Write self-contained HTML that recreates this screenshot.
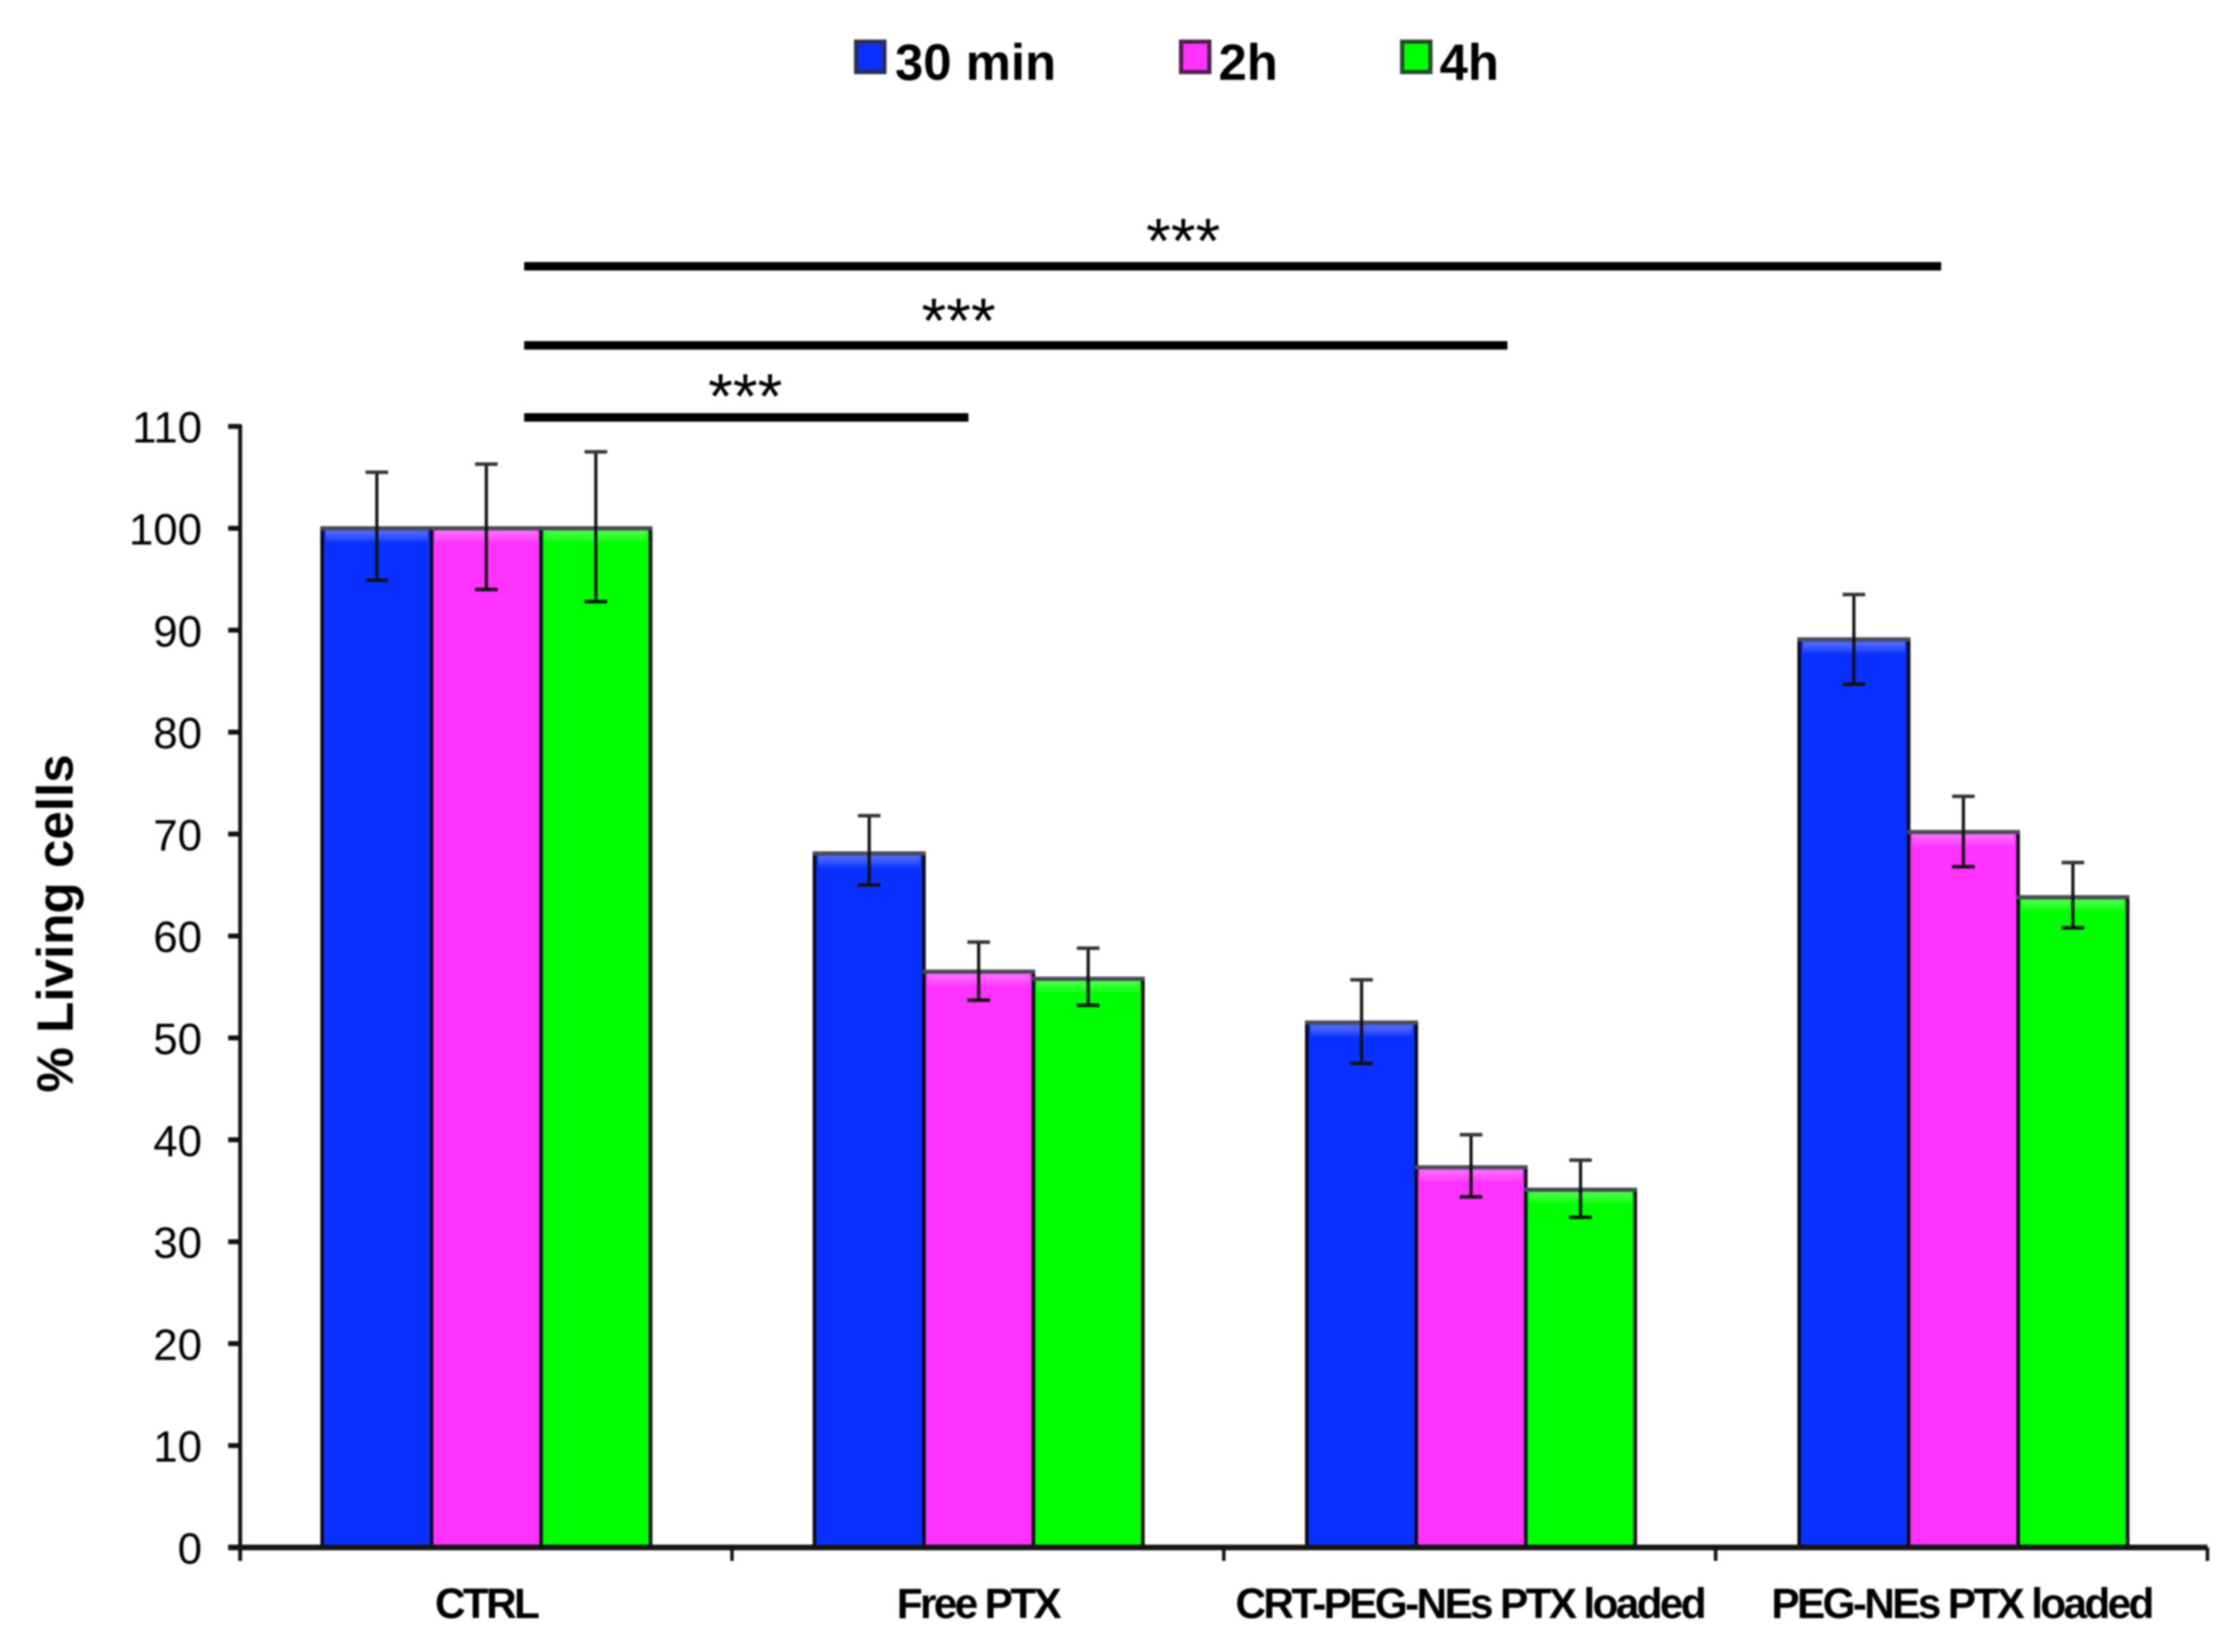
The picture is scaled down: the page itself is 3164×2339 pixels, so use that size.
<!DOCTYPE html>
<html lang="en">
<head>
<meta charset="utf-8">
<title>% Living cells bar chart</title>
<style>
  html, body { margin: 0; padding: 0; background: #ffffff; }
  #chart { display: block; width: 3164px; height: 2339px; filter: blur(1.2px); }
  text { font-family: "Liberation Sans", sans-serif; fill: #000; }
</style>
</head>
<body>
<svg id="chart" xmlns="http://www.w3.org/2000/svg" width="3164" height="2339" viewBox="0 0 3164 2339">
  <defs>
    <linearGradient id="gloss" x1="0" y1="0" x2="0" y2="1">
      <stop offset="0" stop-color="#fff" stop-opacity="0.28"/>
      <stop offset="0.45" stop-color="#fff" stop-opacity="0.2"/>
      <stop offset="1" stop-color="#fff" stop-opacity="0"/>
    </linearGradient>
  </defs>
  <rect x="0" y="0" width="3164" height="2339" fill="#fff"/>

  <g>
    <g>
      <rect x="1212" y="59" width="40" height="43" fill="#0a30ff" stroke="#2a2f50" stroke-width="6"/>
      <text x="1267" y="113" font-size="72" font-weight="bold">30 min</text>
    </g>
    <g>
      <rect x="1672" y="59" width="40" height="43" fill="#ff33ff" stroke="#4c204c" stroke-width="6"/>
      <text x="1725" y="113" font-size="72" font-weight="bold">2h</text>
    </g>
    <g>
      <rect x="1985" y="59" width="40" height="43" fill="#00ff00" stroke="#264a2c" stroke-width="6"/>
      <text x="2038" y="113" font-size="72" font-weight="bold">4h</text>
    </g>
  </g>

  <g>
    <rect x="742" y="371" width="2006" height="12" fill="#000"/>
    <text x="1675" y="372" font-size="90" text-anchor="middle">***</text>
    <rect x="742" y="483" width="1392" height="12" fill="#000"/>
    <text x="1357" y="485" font-size="90" text-anchor="middle">***</text>
    <rect x="742" y="585" width="629" height="12" fill="#000"/>
    <text x="1055" y="592" font-size="90" text-anchor="middle">***</text>
  </g>

  <text transform="translate(103,1307.5) rotate(-90)" text-anchor="middle" font-size="72" font-weight="bold" textLength="479" lengthAdjust="spacingAndGlyphs">% Living cells</text>

  <g id="bars"></g>
  <g id="axes"></g>
</svg>

<script>
const categories = ["CTRL", "Free PTX", "CRT-PEG-NEs PTX loaded", "PEG-NEs PTX loaded"];
const seriesNames = ["30-min", "2h", "4h"];
const yTickLabels = [0, 10, 20, 30, 40, 50, 60, 70, 80, 90, 100, 110];

const values30min = [100.0, 68.1, 51.5, 89.1];
const values2h = [100.0, 56.5, 37.3, 70.2];
const values4h = [100.0, 55.8, 35.1, 63.8];

const errorHigh30min = [105.5, 71.8, 55.7, 93.5];
const errorHigh2h = [106.3, 59.4, 40.5, 73.7];
const errorHigh4h = [107.5, 58.8, 38.0, 67.2];

const errorLow30min = [94.9, 65.0, 47.5, 84.7];
const errorLow2h = [94.0, 53.7, 34.4, 66.8];
const errorLow4h = [92.8, 53.2, 32.4, 60.8];

const seriesValues = [values30min, values2h, values4h];
const seriesHigh = [errorHigh30min, errorHigh2h, errorHigh4h];
const seriesLow = [errorLow30min, errorLow2h, errorLow4h];
const seriesFill = ["#0a30ff", "#ff33ff", "#00ff00"];

const NS = "http://www.w3.org/2000/svg";
const barsLayer = document.getElementById("bars");
const axesLayer = document.getElementById("axes");

function yScale(v) { return 2191 - 14.43 * v; }
function barLeft(cat, ser) { return 456 + 697 * cat + 155 * ser; }
function barCenter(cat, ser) { return barLeft(cat, ser) + 77.5; }
function xBoundary(i) { return 340 + 696.25 * i; }
function categoryCenter(i) { return xBoundary(i + 0.5); }

function make(tag, parent, attrs) {
  const node = document.createElementNS(NS, tag);
  Object.keys(attrs).forEach(function (k) { node.setAttribute(k, attrs[k]); });
  parent.appendChild(node);
  return node;
}

const BAR_W = 155;
const CAP = 32;

categories.forEach(function (cat, c) {
  seriesValues.forEach(function (vals, s) {
    const top = yScale(vals[c]);
    const bottom = yScale(0);
    const left = barLeft(c, s);
    const key = seriesNames[s] + "-" + c;

    let el = make("rect", barsLayer, { x: left, y: top, width: BAR_W, height: bottom - top, fill: seriesFill[s], stroke: "#0a0a14", "stroke-width": 5 });
    
    

    el = make("rect", barsLayer, { x: left + 5, y: top + 3, width: BAR_W - 10, height: 18, fill: "url(#gloss)" });
    
    

    el = make("rect", barsLayer, { x: left - 2, y: top - 3, width: BAR_W + 4, height: 6, fill: "#4a4a5a" });
    
    
  });
});

categories.forEach(function (cat, c) {
  seriesValues.forEach(function (vals, s) {
    const cx = barCenter(c, s);
    const hi = yScale(seriesHigh[s][c]);
    const lo = yScale(seriesLow[s][c]);
    const key = seriesNames[s] + "-" + c;

    let el = make("line", barsLayer, { x1: cx, x2: cx, y1: hi, y2: lo, stroke: "#111", "stroke-width": 4.5 });
    
    

    el = make("line", barsLayer, { x1: cx - CAP / 2, x2: cx + CAP / 2, y1: hi, y2: hi, stroke: "#333", "stroke-width": 5 });
    
    

    el = make("line", barsLayer, { x1: cx - CAP / 2, x2: cx + CAP / 2, y1: lo, y2: lo, stroke: "#111", "stroke-width": 5 });
    
    
  });
});

let axisEl = make("line", axesLayer, { x1: xBoundary(0), x2: xBoundary(0), y1: yScale(110) - 3, y2: 2210, stroke: "#111", "stroke-width": 5.5 });



axisEl = make("line", axesLayer, { x1: 323, x2: xBoundary(4), y1: yScale(0), y2: yScale(0), stroke: "#151515", "stroke-width": 8 });



yTickLabels.forEach(function (t) {
  const y = yScale(t);
  if (t !== 0) {
    const tick = make("line", axesLayer, { x1: 323, x2: xBoundary(0), y1: y, y2: y, stroke: "#111", "stroke-width": 7 });
    
    
  }
  const label = make("text", axesLayer, { x: 286, y: y + 23, "font-size": 62, "text-anchor": "end", fill: "#1a1a1a" });
  label.textContent = String(t);
  
  
});

for (let i = 1; i <= categories.length; i++) {
  const tick = make("line", axesLayer, { x1: xBoundary(i), x2: xBoundary(i), y1: yScale(0), y2: 2210, stroke: "#111", "stroke-width": 5 });
  
  
}

categories.forEach(function (cat, c) {
  const label = make("text", axesLayer, { x: categoryCenter(c), y: 2291, "font-size": 60, "font-weight": "bold", "text-anchor": "middle", "letter-spacing": "-3.8" });
  label.textContent = cat;
  
  
});
</script>
</body>
</html>
